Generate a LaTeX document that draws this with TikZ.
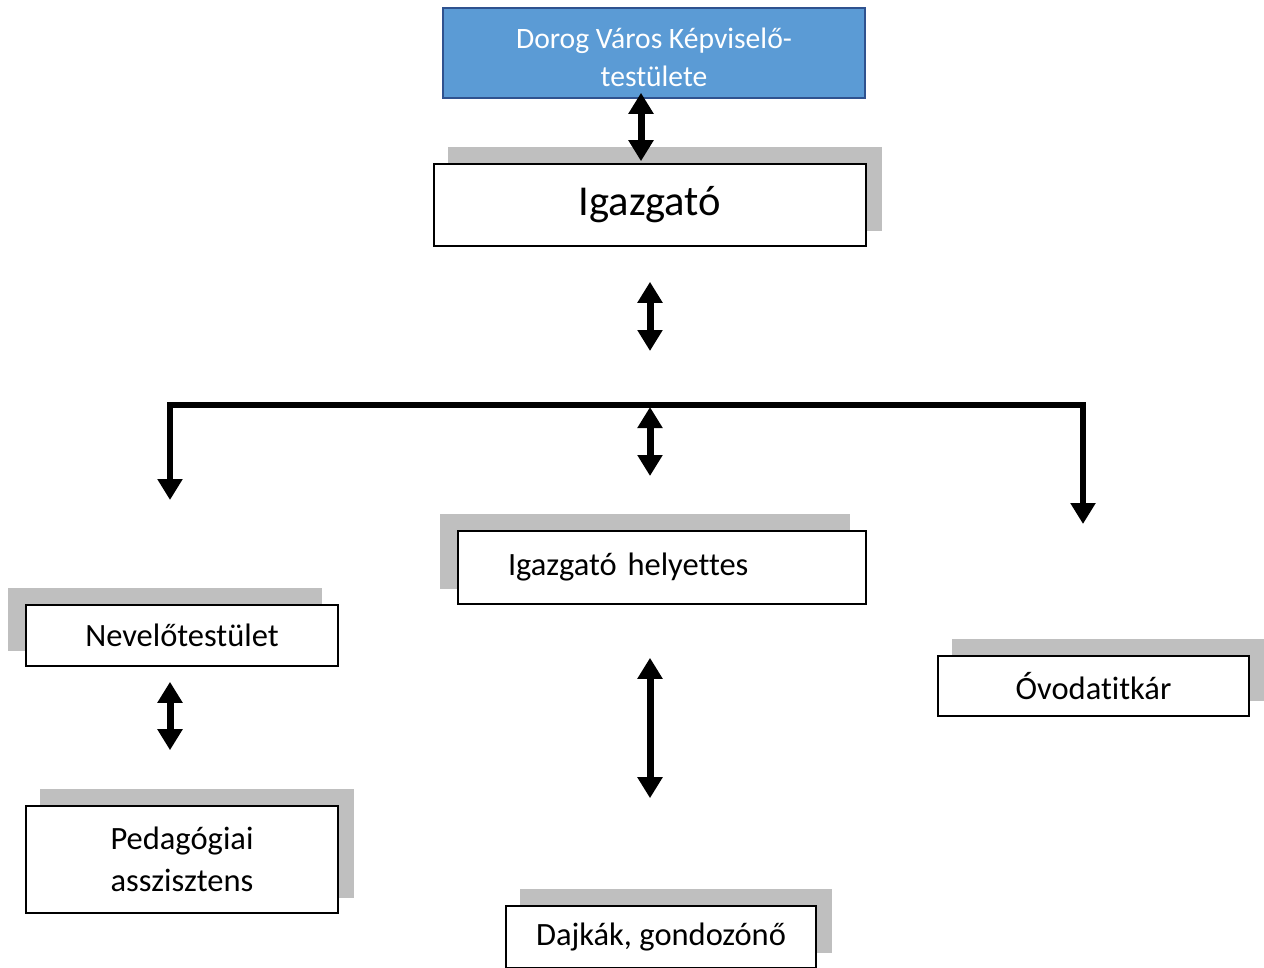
\documentclass[tikz,border=0pt]{standalone}
\usepackage{fontspec}
\setmainfont[Ligatures=CommonOff]{Carlito}
\usetikzlibrary{arrows.meta,backgrounds}
\definecolor{boardblue}{HTML}{5B9BD5}
\definecolor{boardline}{HTML}{2F528F}
\definecolor{shadegray}{HTML}{BFBFBF}
% grey offset block behind a box
\newcommand{\boxshade}[2]{\fill[shadegray] ([shift={(#2,-16)}]#1.south west) rectangle ([shift={(#2,-16)}]#1.north east);}
\begin{document}
\begin{tikzpicture}[x=1pt,y=-1pt,
    unit/.style={rectangle,draw=black,line width=1.6pt,fill=white,inner sep=0pt,align=center,
      font=\fontsize{32.5}{42}\selectfont},
    board/.style={rectangle,draw=boardline,line width=1.6pt,fill=boardblue},
    boardtext/.style={text=white,align=center,inner sep=0pt,font=\fontsize{29.6}{38}\selectfont},
    twoway/.style={line width=7pt,{Triangle[length=21pt,width=24pt]}-{Triangle[length=21pt,width=24pt]}},
    branch/.style={line width=6pt,line join=miter,{Triangle[length=21pt,width=24pt]}-{Triangle[length=21pt,width=24pt]}}]
    \useasboundingbox (0,0) rectangle (1264,967);

    \node[board,minimum width=422,minimum height=90] (council) at (654,53) {};
    \node[boardtext] (councilname) at ([shift={(0,4)}]council.center) {Dorog Város Képviselő-\\testülete};
    \node[unit,minimum width=432,minimum height=82,font=\fontsize{42.6}{50}\selectfont] (head) at (650,205) {Igazgató};
    \node[unit,minimum width=408,minimum height=73,text width=308pt,inner xsep=50pt,align=left] (deputy) at (662,567.5) {Igazgató helyettes};
    \node[unit,minimum width=312,minimum height=61] (staff) at (182,635.5) {Nevelőtestület};
    \node[unit,minimum width=312,minimum height=107] (assist) at (182,859.5) {Pedagógiai\\asszisztens};
    \node[unit,minimum width=311,minimum height=60] (secretary) at (1093.5,686) {Óvodatitkár};
    \node[unit,minimum width=310,minimum height=62] (nannies) at (661,937) {Dajkák, gondozónő};

    \begin{scope}[on background layer]
        \boxshade{head}{15}
        \boxshade{deputy}{-17}
        \boxshade{staff}{-17}
        \boxshade{assist}{15}
        \boxshade{secretary}{15}
        \boxshade{nannies}{15}
    \end{scope}

    % the bar under the director
    \coordinate (barL) at (170,405);
    \coordinate (barM) at (650,405);
    \coordinate (barR) at (1083,405);
    \coordinate (lefttip) at (170,500);
    \coordinate (righttip) at (1083,524);

    \draw[twoway] ([shift={(-13,-6)}]council.south) -- ([shift={(-9,-2)}]head.north);
    \draw[twoway] ([shift={(0,35)}]head.south) -- ([shift={(0,-54)}]barM);
    \draw[branch] (lefttip) -- (barL) -- (barR) -- (righttip);
    \draw[twoway] ([shift={(0,2)}]barM) -- ([shift={(0,71)}]barM);
    \draw[twoway] ([shift={(-12,15)}]staff.south) -- ([shift={(-12,-55)}]assist.north);
    \draw[twoway] ([shift={(-12,53)}]deputy.south) -- ([shift={(-11,-107)}]nannies.north);
\end{tikzpicture}
\end{document}
